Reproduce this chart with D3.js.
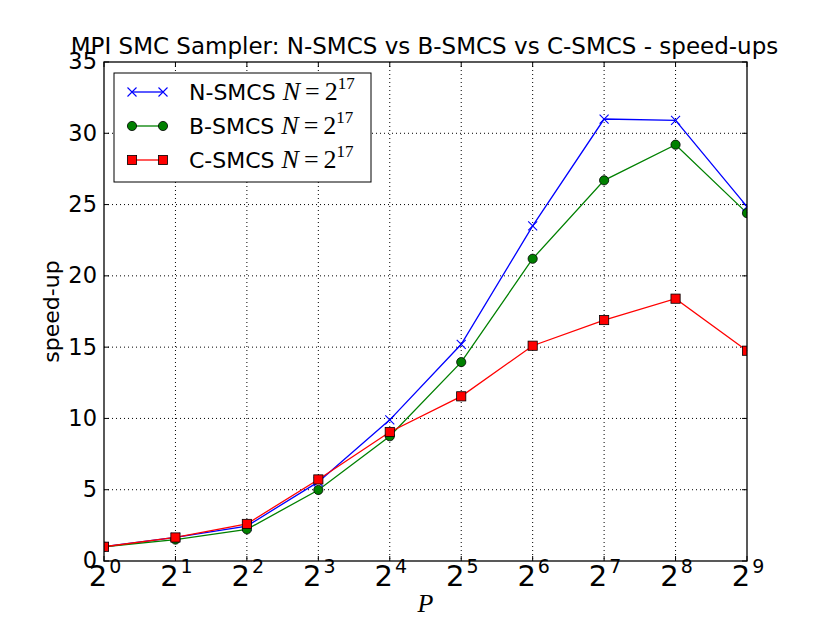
<!DOCTYPE html>
<html>
<head>
<meta charset="utf-8">
<script src="https://cdn.jsdelivr.net/npm/d3@7"></script>
<style>
  body { margin: 0; background: #fff; }
  svg { font-family: "DejaVu Sans", sans-serif; }
</style>
</head>
<body>
<svg id="chart" width="830" height="623"></svg>
<script>
// processor counts and measured speed-ups
const procs = [1, 2, 4, 8, 16, 32, 64, 128, 256, 512];
const nSmcs = [1.0, 1.65, 2.45, 5.55, 9.9, 15.2, 23.5, 31.0, 30.9, 24.85];
const bSmcs = [1.0, 1.5, 2.22, 4.98, 8.75, 13.95, 21.2, 26.7, 29.2, 24.4];
const cSmcs = [1.0, 1.65, 2.6, 5.72, 9.05, 11.55, 15.1, 16.9, 18.4, 14.75];
const yTicks = [0, 5, 10, 15, 20, 25, 30, 35];
const xExps = [0, 1, 2, 3, 4, 5, 6, 7, 8, 9];

const series = [
  { name: "N-SMCS", values: nSmcs, color: "#0000ff", marker: "x" },
  { name: "B-SMCS", values: bSmcs, color: "#008000", marker: "o" },
  { name: "C-SMCS", values: cSmcs, color: "#ff0000", marker: "s" }
];

const mLeft = 104, mRight = 747, mTop = 62, mBottom = 561;
const serif = "'Liberation Serif', 'DejaVu Serif', serif";

const x = d3.scaleLog().base(2).domain([1, 512]).range([mLeft, mRight]);
const y = d3.scaleLinear().domain([0, 35]).range([mBottom, mTop]);

const svg = d3.select("#chart");

// grid
const grid = svg.append("g").attr("stroke", "#000").attr("stroke-width", 1)
  .attr("stroke-dasharray", "1,3");
grid.selectAll(".gx").data(xExps.slice(1, -1)).enter().append("line")
  .attr("x1", d => x(2 ** d)).attr("x2", d => x(2 ** d))
  .attr("y1", mTop).attr("y2", mBottom);
grid.selectAll(".gy").data(yTicks.slice(1, -1)).enter().append("line")
  .attr("x1", mLeft).attr("x2", mRight)
  .attr("y1", d => y(d)).attr("y2", d => y(d));

// tick marks (inside, all four sides)
const ticks = svg.append("g").attr("stroke", "#000").attr("stroke-width", 1);
xExps.forEach(d => {
  const px = x(2 ** d);
  ticks.append("line").attr("x1", px).attr("x2", px).attr("y1", mBottom).attr("y2", mBottom - 5);
  ticks.append("line").attr("x1", px).attr("x2", px).attr("y1", mTop).attr("y2", mTop + 5);
});
yTicks.forEach(d => {
  const py = y(d);
  ticks.append("line").attr("x1", mLeft).attr("x2", mLeft + 5).attr("y1", py).attr("y2", py);
  ticks.append("line").attr("x1", mRight).attr("x2", mRight - 5).attr("y1", py).attr("y2", py);
});

// lines
const line = d3.line().x((d, i) => x(procs[i])).y(d => y(d));
series.forEach(s => {
  svg.append("path").datum(s.values)
    .attr("d", line).attr("fill", "none")
    .attr("stroke", s.color).attr("stroke-width", 1.3);
});

function drawMarker(g, type, color, cx, cy) {
  if (type === "x") {
    const r = 4.5;
    g.append("path")
      .attr("d", `M${cx - r},${cy - r}L${cx + r},${cy + r}M${cx - r},${cy + r}L${cx + r},${cy - r}`)
      .attr("stroke", color).attr("stroke-width", 1.1).attr("fill", "none");
  } else if (type === "o") {
    g.append("circle").attr("cx", cx).attr("cy", cy).attr("r", 4.6)
      .attr("fill", color).attr("stroke", "#000").attr("stroke-width", 0.8);
  } else {
    g.append("rect").attr("x", cx - 4.6).attr("y", cy - 4.6)
      .attr("width", 9.2).attr("height", 9.2)
      .attr("fill", color).attr("stroke", "#000").attr("stroke-width", 0.8);
  }
}

const clip = svg.append("clipPath").attr("id", "plotclip");
clip.append("rect").attr("x", mLeft).attr("y", mTop).attr("width", mRight - mLeft).attr("height", mBottom - mTop);

series.forEach(s => {
  const g = svg.append("g").attr("clip-path", "url(#plotclip)");
  s.values.forEach((v, i) => drawMarker(g, s.marker, s.color, x(procs[i]), y(v)));
});

// frame
svg.append("rect").attr("x", mLeft).attr("y", mTop)
  .attr("width", mRight - mLeft).attr("height", mBottom - mTop)
  .attr("fill", "none").attr("stroke", "#000").attr("stroke-width", 1.3);

// y tick labels
svg.selectAll(".ylab").data(yTicks).enter().append("text")
  .attr("x", mLeft - 7).attr("y", d => y(d)).attr("dy", "0.33em")
  .attr("text-anchor", "end").attr("font-size", 22.5)
  .text(d => d);

// x tick labels 2^k
xExps.forEach(d => {
  const t = svg.append("text").attr("x", x(2 ** d) + 1).attr("y", 586)
    .attr("text-anchor", "middle").attr("font-size", 29);
  t.append("tspan").text("2");
  t.append("tspan").attr("font-size", 19).attr("dy", -13).attr("dx", 2).text(d);
});

// axis labels and title
svg.append("text").attr("x", (mLeft + mRight) / 2).attr("y", 612)
  .attr("text-anchor", "middle").attr("font-size", 26)
  .style("font-family", serif).attr("font-style", "italic")
  .text("P");

svg.append("text").attr("transform", `translate(59,${(mTop + mBottom) / 2}) rotate(-90)`)
  .attr("text-anchor", "middle").attr("font-size", 22)
  .text("speed-up");

svg.append("text").attr("x", (mLeft + mRight) / 2 - 1).attr("y", 54)
  .attr("text-anchor", "middle").attr("font-size", 23)
  .text("MPI SMC Sampler: N-SMCS vs B-SMCS vs C-SMCS - speed-ups");

// legend
const lg = svg.append("g");
lg.append("rect").attr("x", 114).attr("y", 73).attr("width", 257).attr("height", 109)
  .attr("fill", "#fff").attr("stroke", "#000").attr("stroke-width", 1);
series.forEach((s, i) => {
  const cy = 92 + i * 34;
  lg.append("line").attr("x1", 132).attr("x2", 163).attr("y1", cy).attr("y2", cy)
    .attr("stroke", s.color).attr("stroke-width", 1.3);
  drawMarker(lg, s.marker, s.color, 132, cy);
  drawMarker(lg, s.marker, s.color, 163, cy);
  const t = lg.append("text").attr("x", 189).attr("y", cy + 8).attr("font-size", 22);
  t.append("tspan").text(s.name + " ");
  const m = t.append("tspan").style("font-family", serif).attr("font-size", 26);
  m.append("tspan").attr("font-style", "italic").text("N");
  m.append("tspan").attr("dx", 5).text("=");
  m.append("tspan").attr("dx", 5).text("2");
  m.append("tspan").attr("font-size", 17).attr("dy", -11).text("17");
});
</script>
</body>
</html>
